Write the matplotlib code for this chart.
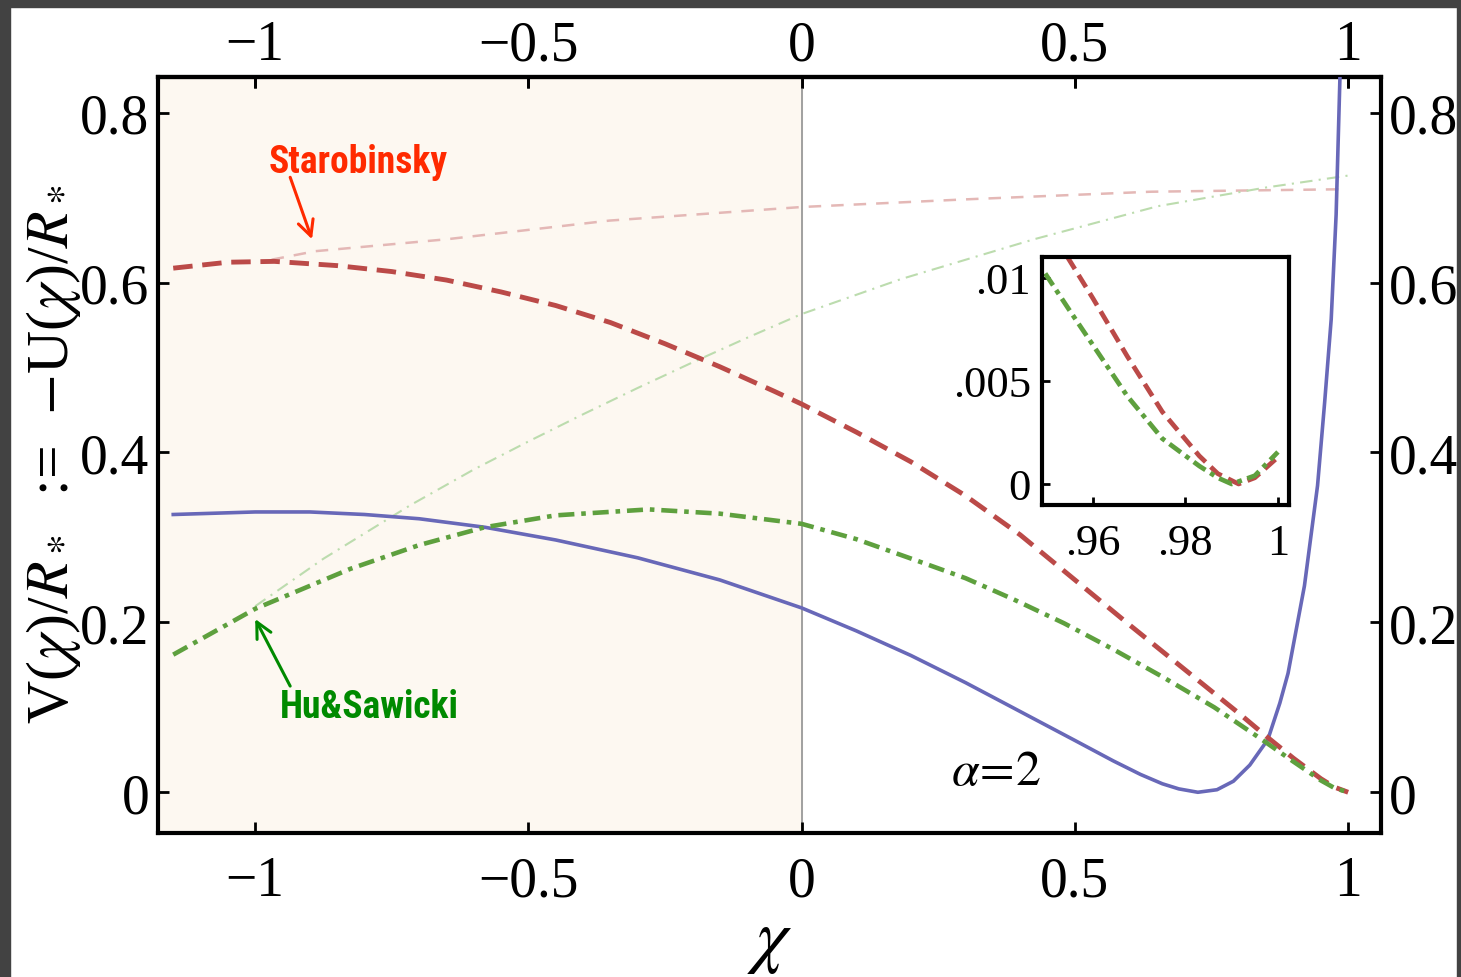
import numpy as np
import matplotlib
matplotlib.use('Agg')
import matplotlib.pyplot as plt
from matplotlib.patches import Rectangle

plt.rcParams['font.family'] = ['Liberation Serif', 'DejaVu Serif']
plt.rcParams['mathtext.fontset'] = 'stix'

# blue solid curve, alpha = 2
x_blue = [-1.15, -1.0, -0.9, -0.8, -0.7, -0.58, -0.45, -0.3, -0.15, -0.05, 0.0, 0.1, 0.2, 0.3,
          0.4, 0.5, 0.57, 0.62, 0.66, 0.69, 0.725, 0.76, 0.79, 0.82, 0.853, 0.875, 0.89, 0.92,
          0.944, 0.957, 0.969, 0.978, 0.985, 0.99]
y_blue = [0.327, 0.330, 0.330, 0.327, 0.322, 0.312, 0.297, 0.276, 0.250, 0.228, 0.217, 0.190,
          0.161, 0.129, 0.095, 0.061, 0.037, 0.021, 0.010, 0.004, 0.0, 0.003, 0.013, 0.032,
          0.062, 0.105, 0.140, 0.243, 0.361, 0.459, 0.557, 0.68, 0.842, 0.96]

# Starobinsky (thick dashed red)
x_star = [-1.15, -1.05, -0.965, -0.85, -0.75, -0.65, -0.55, -0.45, -0.35, -0.25, -0.15, -0.05,
          0.0, 0.1, 0.2, 0.3, 0.4, 0.5, 0.6, 0.7, 0.8, 0.85, 0.9, 0.95, 0.975, 1.0]
y_star = [0.617, 0.624, 0.625, 0.620, 0.613, 0.603, 0.589, 0.573, 0.553, 0.528, 0.501, 0.472,
          0.457, 0.424, 0.389, 0.349, 0.303, 0.250, 0.197, 0.145, 0.093, 0.066, 0.040, 0.016,
          0.006, 0.0]

# Hu&Sawicki (thick dash-dot green)
x_hs = [-1.15, -1.0, -0.9, -0.826, -0.7, -0.58, -0.45, -0.28, -0.15, 0.0, 0.1, 0.205, 0.3, 0.388,
        0.48, 0.571, 0.66, 0.755, 0.84, 0.9, 0.95, 0.975, 1.0]
y_hs = [0.162, 0.216, 0.243, 0.263, 0.291, 0.312, 0.326, 0.333, 0.328, 0.316, 0.298, 0.274, 0.252,
        0.227, 0.199, 0.168, 0.136, 0.100, 0.063, 0.036, 0.014, 0.005, 0.0]

# thin companion curves
x_star_thin = [-0.97, -0.89, -0.65, -0.352, 0.0, 0.3, 0.639, 1.0]
y_star_thin = [0.627, 0.637, 0.651, 0.673, 0.689, 0.698, 0.707, 0.710]
x_hs_thin = [-1.0, -0.875, -0.716, -0.6, -0.5, -0.4, -0.3, -0.2, -0.1, 0.0, 0.181, 0.425, 0.652,
             0.85, 1.0]
y_hs_thin = [0.219, 0.275, 0.338, 0.380, 0.413, 0.445, 0.476, 0.506, 0.535, 0.563, 0.604, 0.651,
             0.690, 0.712, 0.726]

# inset
xi_star = [0.9545, 0.96, 0.9674, 0.975, 0.983, 0.987, 0.9915, 0.995, 1.0]
yi_star = [0.0110, 0.0090, 0.0062, 0.0035, 0.00136, 0.0005, 0.0, 0.0003, 0.0013]
xi_hs = [0.9497, 0.955, 0.9674, 0.975, 0.983, 0.987, 0.990, 0.995, 1.0]
yi_hs = [0.0102, 0.0084, 0.00427, 0.0022, 0.00087, 0.0003, 0.0, 0.0004, 0.00155]

xticks = [-1, -0.5, 0, 0.5, 1]
xlabels = ['\u22121', '\u22120.5', '0', '0.5', '1']
yticks = [0, 0.2, 0.4, 0.6, 0.8]
ylabels = ['0', '0.2', '0.4', '0.6', '0.8']
ixticks = [0.96, 0.98, 1.0]
ixlabels = ['.96', '.98', '1']
iyticks = [0, 0.005, 0.01]
iylabels = ['0', '.005', '.01']

c_blue = '#6868b8'
c_red = '#bb4a48'
c_green = '#5ea03e'
note_font = ['Liberation Sans Narrow', 'Roboto Condensed', 'DejaVu Sans']

fig = plt.figure(figsize=(14.61, 9.78), dpi=100)
ax = fig.add_axes([0.1081, 0.1472, 0.8371, 0.773])
ax.set_xlim(-1.178, 1.06)
ax.set_ylim(-0.048, 0.842)

ax.axvspan(-1.2, 0, color='#fdf8f1', zorder=0)
ax.axvline(0, color='#999999', lw=1.3, zorder=1)

ax.plot(x_star_thin, y_star_thin, color='#e4b8b6', lw=1.8, ls=(0, (5, 4)), zorder=2)
ax.plot(x_hs_thin, y_hs_thin, color='#bcdcae', lw=1.5, ls=(0, (6, 3, 1, 3)), zorder=2)
ax.plot(x_blue, y_blue, color=c_blue, lw=2.6, zorder=3)
ax.plot(x_star, y_star, color=c_red, lw=3.5, ls=(0, (4, 2)), zorder=3)
ax.plot(x_hs, y_hs, color=c_green, lw=3.3, ls=(0, (3.5, 1.5, 1, 1.5)), zorder=3)

ax.set_xticks(xticks)
ax.set_xticklabels(xlabels)
ax.set_yticks(yticks)
ax.set_yticklabels(ylabels)
ax.tick_params(direction='in', length=8, width=2, labelsize=40,
               top=True, right=True, labeltop=False, labelright=True)
ax.tick_params(axis='x', which='major', pad=16)
ax.tick_params(axis='y', which='major', pad=6)
for s in ax.spines.values():
    s.set_linewidth(3)

top = ax.secondary_xaxis('top')
top.set_xticks(xticks)
top.set_xticklabels(xlabels)
top.tick_params(direction='in', length=8, width=2, labelsize=40, pad=4)
top.spines['top'].set_linewidth(3)

ax.set_ylabel(r'V($\chi$)/$R_*$  :=  $-$U($\chi$)/$R_*$', fontsize=43)
ax.yaxis.set_label_coords(-0.061, 0.503)
fig.text(0.527, 0.035, r'$\chi$', fontsize=52, ha='center', va='center')

ax.text(0.273, 0.024, r'$\alpha\!=\!2$', fontsize=36, ha='left', va='center')

ax.text(-0.976, 0.743, 'Starobinsky', color='#ff2a00', fontsize=27, fontweight='bold',
        family=note_font, fontstretch='condensed', ha='left', va='center')
ax.annotate('', xy=(-0.896, 0.651), xytext=(-0.936, 0.724),
            arrowprops=dict(arrowstyle='->', color='#ff2a00', lw=2.2, mutation_scale=28,
                            shrinkA=0, shrinkB=0))
ax.text(-0.954, 0.101, 'Hu&Sawicki', color='#008a00', fontsize=27, fontweight='bold',
        family=note_font, fontstretch='condensed', ha='left', va='center')
ax.annotate('', xy=(-1.0, 0.204), xytext=(-0.936, 0.125),
            arrowprops=dict(arrowstyle='->', color='#008a00', lw=2.2, mutation_scale=28,
                            shrinkA=0, shrinkB=0))

# inset
axi = fig.add_axes([0.7132, 0.4826, 0.1691, 0.2536])
axi.set_xlim(0.949, 1.0024)
axi.set_ylim(-0.00102, 0.0110)
axi.plot(xi_star, yi_star, color=c_red, lw=3.4, ls=(0, (3, 1.5)))
axi.plot(xi_hs, yi_hs, color=c_green, lw=3.4, ls=(0, (3, 1.2, 1, 1.2)))
axi.set_xticks(ixticks)
axi.set_xticklabels(ixlabels)
axi.set_yticks(iyticks)
axi.set_yticklabels(iylabels)
axi.tick_params(direction='in', length=6, width=2, labelsize=32, pad=8)
axi.tick_params(axis='x', pad=13)
for s in axi.spines.values():
    s.set_linewidth(3)

# dark border of the screenshot
fig.add_artist(Rectangle((0, 0), 10 / 1461, 1, transform=fig.transFigure, color='#424242'))
fig.add_artist(Rectangle((0, 1 - 8 / 978), 1, 8 / 978, transform=fig.transFigure, color='#424242'))
fig.add_artist(Rectangle((1457 / 1461, 0), 4 / 1461, 1, transform=fig.transFigure, color='#424242'))

plt.savefig('out.png', dpi=100)
plt.close()
